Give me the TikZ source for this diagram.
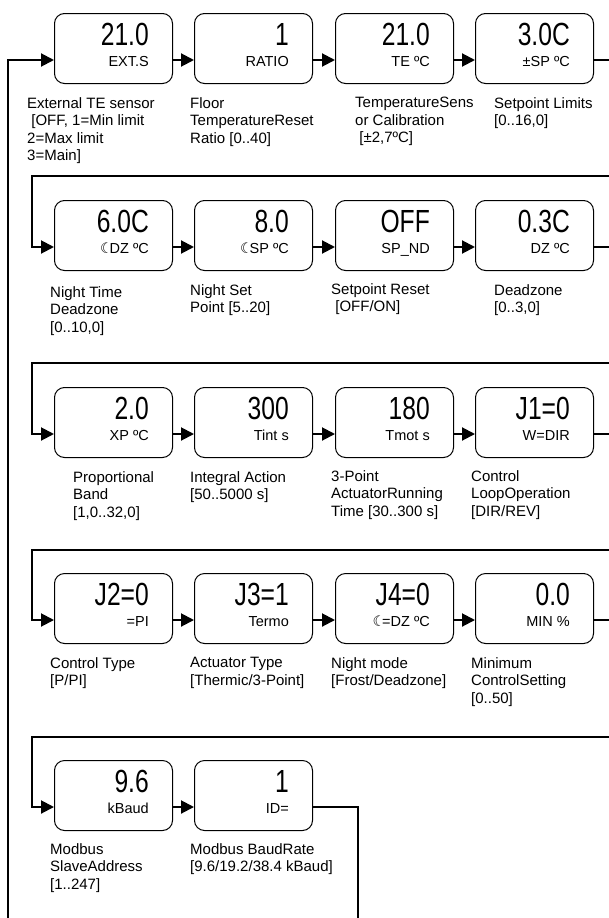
\documentclass[tikz,border=0pt]{standalone}
\usepackage{fontspec}
\setmainfont{Liberation Sans}
\newfontfamily\bigf[FakeStretch=0.77]{Liberation Sans}
\newfontfamily\symf{DejaVu Sans}
\usetikzlibrary{calc,arrows.meta}
\tikzset{
  pbox/.style={draw, rounded corners=10pt, minimum width=118pt, minimum height=70pt, anchor=north west, inner sep=0pt, line width=1pt},
  bigval/.style={font=\bigf\fontsize{32}{32}\selectfont, anchor=base east, inner sep=0pt},
  smallval/.style={font=\fontsize{14.5}{14.5}\selectfont, anchor=base east, inner sep=0pt},
  desc/.style={font=\fontsize{15}{17.5}\selectfont, anchor=north west, align=left, inner sep=0pt},
  conn/.style={line width=2pt, -{Triangle[length=13pt,width=13pt]}},
  wire/.style={line width=2pt},
}
\newcommand\pbox[5]{%
  \node[pbox] (#1) at (#2,#3) {};
  \node[bigval] (#1v) at ($(#1.north east)+(-24,32)$) {#4};
  \node[smallval] (#1s) at ($(#1.north east)+(-24,53)$) {#5};
}
\newcommand\moon{{\symf ☾}\kern-3.5pt}
\begin{document}
\begin{tikzpicture}[x=1pt,y=-1pt]
\useasboundingbox (0,0) rectangle (609,918);
% row 1
\pbox{b11}{54}{13}{21.0}{EXT.S}
\pbox{b12}{194}{13}{1}{RATIO}
\pbox{b13}{335}{13}{21.0}{TE ºC}
\pbox{b14}{475}{13}{3.0C}{±SP ºC}
% row 2
\pbox{b21}{54}{200}{6.0C}{\moon DZ ºC}
\pbox{b22}{194}{200}{8.0}{\moon SP ºC}
\pbox{b23}{335}{200}{OFF}{SP\_ND}
\pbox{b24}{475}{200}{0.3C}{DZ ºC}
% row 3
\pbox{b31}{54}{387}{2.0}{XP ºC}
\pbox{b32}{194}{387}{300}{Tint s}
\pbox{b33}{335}{387}{180}{Tmot s}
\pbox{b34}{475}{387}{J1=0}{W=DIR}
% row 4
\pbox{b41}{54}{573}{J2=0}{=PI}
\pbox{b42}{194}{573}{J3=1}{Termo}
\pbox{b43}{335}{573}{J4=0}{\moon=DZ ºC}
\pbox{b44}{475}{573}{0.0}{MIN \%}
% row 5
\pbox{b51}{54}{760}{9.6}{kBaud}
\pbox{b52}{194}{760}{1}{ID=}

% labels
\node[desc] (l11) at (27,97) {External TE sensor\\{}\ [OFF, 1=Min limit\\2=Max limit\\3=Main]};
\node[desc] (l12) at (190,97) {Floor\\TemperatureReset\\Ratio [0..40]};
\node[desc] (l13) at (355,97) {TemperatureSens\\or Calibration\\{}\ [±2,7ºC]};
\node[desc] (l14) at (494,97) {Setpoint Limits\\{}[0..16,0]};
\node[desc] (l21) at (50,286) {Night Time\\Deadzone\\{}[0..10,0]};
\node[desc] (l22) at (190,284) {Night Set\\Point [5..20]};
\node[desc] (l23) at (331,283) {Setpoint Reset\\{}\ [OFF/ON]};
\node[desc] (l24) at (494,284) {Deadzone\\{}[0..3,0]};
\node[desc] (l31) at (73,471) {Proportional\\Band\\{}[1,0..32,0]};
\node[desc] (l32) at (190,471) {Integral Action\\{}[50..5000 s]};
\node[desc] (l33) at (331,470) {3-Point\\ActuatorRunning\\Time [30..300 s]};
\node[desc] (l34) at (471,470) {Control\\LoopOperation\\{}[DIR/REV]};
\node[desc] (l41) at (50,657) {Control Type\\{}[P/PI]};
\node[desc] (l42) at (190,657) {Actuator Type\\{}[Thermic/3-Point]};
\node[desc] (l43) at (331,657) {Night mode\\{}[Frost/Deadzone]};
\node[desc] (l44) at (471,657) {Minimum\\ControlSetting\\{}[0..50]};
\node[desc] (l51) at (50,843) {Modbus\\SlaveAddress\\{}[1..247]};
\node[desc] (l52) at (190,843) {Modbus BaudRate\\{}[9.6/19.2/38.4 kBaud]};

% connectors within rows
\foreach \r in {1,2,3,4}{
  \foreach \a/\b in {1/2,2/3,3/4}{
    \draw[conn] ($(b\r\a.north east)+(0,47)$) -- ($(b\r\b.north west)+(0,47)$);
  }
}
\draw[conn] ($(b51.north east)+(0,47)$) -- ($(b52.north west)+(0,47)$);

% row exits to the right edge
\foreach \r in {1,2,3,4}{
  \coordinate (x\r) at ($(b\r4.north east)+(0,47)$);
  \draw[wire] (x\r) -- (x\r -| 609,0);
}
% row entries from the right edge
\coordinate (in1) at (8,918);
\draw[conn] (in1) |- ($(b11.north west)+(0,47)$);
\foreach \r/\y in {2/176,3/363,4/550,5/737}{
  \coordinate (re\r) at (609,\y);
  \coordinate (rc\r) at (32,\y);
  \draw[conn] (re\r) -- (rc\r) |- ($(b\r1.north west)+(0,47)$);
}
% final exit
\coordinate (fin) at (358,918);
\draw[wire] ($(b52.north east)+(0,47)$) -| (fin);
\end{tikzpicture}
\end{document}
